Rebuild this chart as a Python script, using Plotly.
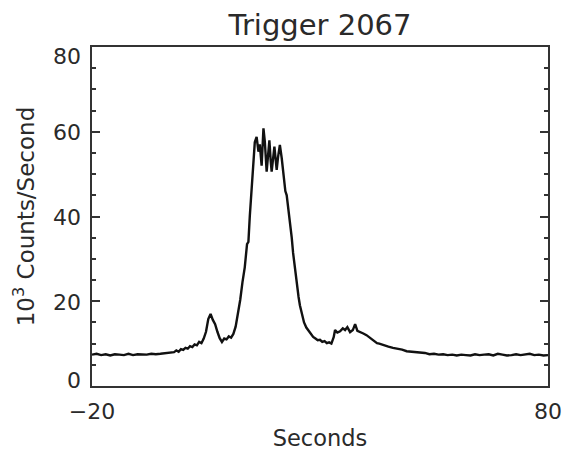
import plotly.graph_objects as go

# ---- data ----
title_text = "Trigger 2067"
x_label = "Seconds"
y_label = "10<sup>3</sup> Counts/Second"

seconds = [
    -20, -19, -18, -17, -16, -15, -14, -13, -12, -11, -10, -9, -8, -7, -6, -5, -4, -3, -2,
    -1.5, -1, -0.5, 0, 0.5, 1, 1.5, 2, 2.5, 3, 3.5, 4, 4.5, 5, 5.5, 6, 6.5, 7, 7.5, 8,
    8.5, 9, 9.5, 10, 10.5, 11, 11.5, 12, 12.5, 13, 13.5, 14, 14.3, 14.6, 15, 15.4, 15.7,
    16.1, 16.5, 16.8, 17.2, 17.6, 17.9, 18.3, 18.6, 18.9, 19.2, 19.4, 20.0, 20.5, 20.8,
    21.2, 21.6, 22.0, 22.4, 22.7, 23.0, 23.4, 23.8, 24.1, 24.5, 24.9, 25.3, 25.6, 26,
    26.5, 27, 27.5, 28, 28.5, 29, 29.5, 30, 30.5, 31, 31.5, 32, 32.5, 33, 33.3, 33.8,
    34.4, 35, 35.5, 36, 36.6, 37.2, 37.7, 38.2, 38.8, 39.5, 40.2, 41, 41.5, 42, 42.5,
    43, 44, 45, 46, 47, 48, 49, 50, 51, 52, 53, 54, 55, 56, 57, 58, 59, 60, 61, 62, 63,
    64, 65, 66, 67, 68, 69, 70, 71, 72, 73, 74, 75, 76, 77, 78, 79, 80,
]
counts_k = [
    7.4, 7.6, 7.3, 7.5, 7.2, 7.5, 7.4, 7.3, 7.6, 7.3, 7.5, 7.4, 7.4, 7.6, 7.5, 7.6, 7.7, 7.8, 8.0,
    8.4, 8.1, 8.7, 8.5, 9.0, 8.8, 9.4, 9.2, 9.8, 9.6, 10.4, 10.1, 11.2, 12.8, 15.8, 17.0, 15.6, 14.6, 12.8, 11.3,
    10.4, 11.2, 11.0, 11.7, 11.4, 12.3, 14.0, 16.8, 20.3, 24.5, 28.0, 33.5, 34.0, 40.0, 46.5, 52.0, 57.5,
    58.8, 55.3, 57.0, 52.0, 60.8, 57.7, 50.6, 55.0, 58.0, 53.0, 50.6, 56.5, 51.0, 54.0,
    56.9, 53.8, 50.0, 46.0, 45.0, 42.5, 39.0, 35.0, 31.4, 27.5, 23.4, 21.0, 19.0, 17.5,
    15.0, 13.8, 13.0, 12.2, 11.6, 11.2, 10.8, 10.9, 10.4, 10.6, 10.1, 10.3, 10.0, 11.5, 13.2, 12.6,
    12.9, 13.6, 13.2, 13.9, 12.7, 13.2, 14.6, 13.0, 12.8, 12.4, 12.0, 11.3, 11.0, 10.6, 10.1,
    10.0, 9.6, 9.3, 9.0, 8.8, 8.6, 8.2, 8.1, 7.9, 7.8, 7.8, 7.5, 7.6, 7.4, 7.5, 7.3, 7.4, 7.2, 7.4, 7.3, 7.2,
    7.5, 7.3, 7.4, 7.5, 7.2, 7.6, 7.4, 7.2, 7.3, 7.5, 7.3, 7.4, 7.6, 7.3, 7.4, 7.2, 7.3,
]

x_range = [-20, 80]
y_range = [0, 80]
x_tick_vals = [-20, 80]
x_tick_text = ["\u221220", "80"]
y_tick_vals = [0, 20, 40, 60, 80]
y_tick_text = ["0", "20", "40", "60", "80"]

# ---- figure ----
fig = go.Figure()
fig.add_trace(go.Scatter(
    x=seconds, y=counts_k, mode="lines",
    line=dict(color="#111111", width=2.4),
    showlegend=False, hoverinfo="skip",
))

axis_color = "#333333"
text_color = "#2a2a2a"

# y tick labels as annotations: end labels are nudged inside the frame (IDL style)
for v, txt in zip(y_tick_vals, y_tick_text):
    if v == y_range[0]:
        shift = 6
    elif v == y_range[1]:
        shift = -9
    else:
        shift = -1
    fig.add_annotation(
        x=0, xref="paper", y=v, yref="y", text=txt, showarrow=False,
        xanchor="right", yanchor="middle", xshift=-9, yshift=shift,
        font=dict(family="DejaVu Sans", size=22, color=text_color),
    )

fig.update_layout(
    width=566, height=451,
    margin=dict(l=92, r=18, t=47, b=65, autoexpand=False),
    paper_bgcolor="white", plot_bgcolor="white",
    font=dict(family="DejaVu Sans", size=22, color=text_color),
    title=dict(text=title_text, x=0.5, xref="paper", xanchor="center",
               y=1 - 25 / 451, yref="container", yanchor="middle",
               font=dict(size=29, color=text_color), automargin=False),
    xaxis=dict(
        range=x_range, showgrid=False, zeroline=False, automargin=False,
        showline=True, linecolor=axis_color, linewidth=2, mirror=True,
        ticks="", tickvals=x_tick_vals, ticktext=x_tick_text,
        ticklabelstandoff=5,
        title=dict(text=x_label, standoff=20, font=dict(size=22.5)),
    ),
    yaxis=dict(
        range=y_range, showgrid=False, zeroline=False, automargin=False,
        showline=True, linecolor=axis_color, linewidth=2, mirror="allticks",
        ticks="inside", ticklen=8, tickwidth=1.5, tickcolor=axis_color,
        tickvals=y_tick_vals, ticktext=y_tick_text,
        ticklabelstandoff=2, showticklabels=False,
        minor=dict(dtick=5, ticks="inside", ticklen=4, tickwidth=1.5, tickcolor=axis_color),
        title=dict(text=y_label, standoff=49, font=dict(size=23)),
    ),
)

fig.write_html("out.html")
